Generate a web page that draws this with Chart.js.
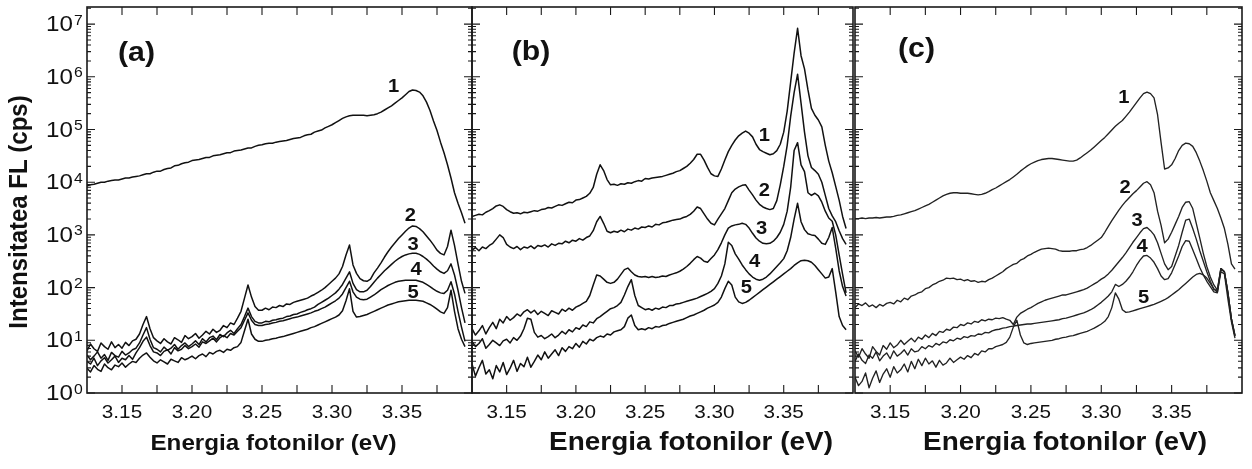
<!DOCTYPE html>
<html>
<head>
<meta charset="utf-8">
<script src="https://cdn.jsdelivr.net/npm/chart.js@4.4.1/dist/chart.umd.min.js"></script>
<style>
  html, body { margin: 0; padding: 0; background: #fff; }
  #wrap { position: relative; width: 1252px; height: 469px; overflow: hidden; background: #fff; }
  #wrap canvas { position: absolute; left: 0; top: 0; }
</style>
</head>
<body>
<div id="wrap">
  <canvas id="panelA" width="1252" height="469"></canvas>
  <canvas id="panelB" width="1252" height="469"></canvas>
  <canvas id="panelC" width="1252" height="469"></canvas>
</div>
<script>
// photon energy grid (eV), shared by all curves
const energy = [
  3.125,3.1275,3.13,3.1325,3.135,3.1375,3.14,3.1425,3.145,3.1475,
  3.15,3.1525,3.155,3.1575,3.16,3.1625,3.165,3.1675,3.17,3.1725,
  3.175,3.1775,3.18,3.1825,3.185,3.1875,3.19,3.1925,3.195,3.1975,
  3.2,3.2025,3.205,3.2075,3.21,3.2125,3.215,3.2175,3.22,3.2225,
  3.225,3.2275,3.23,3.2325,3.235,3.2375,3.24,3.2425,3.245,3.2475,
  3.25,3.2525,3.255,3.2575,3.26,3.2625,3.265,3.2675,3.27,3.2725,
  3.275,3.2775,3.28,3.2825,3.285,3.2875,3.29,3.2925,3.295,3.2975,
  3.3,3.3025,3.305,3.3075,3.31,3.3125,3.315,3.3175,3.32,3.3225,
  3.325,3.3275,3.33,3.3325,3.335,3.3375,3.34,3.3425,3.345,3.3475,
  3.35,3.3525,3.355,3.3575,3.36,3.3625,3.365,3.3675,3.37,3.3725,
  3.375,3.3775,3.38,3.3825,3.385,3.3875,3.39,3.3925,3.395
];

// log10 of the PL intensity (cps), one array per curve
// panel (a)
const a1 = [
  3.93,3.95,3.96,3.98,4.00,4.00,4.02,4.03,4.04,4.04,
  4.06,4.08,4.08,4.10,4.11,4.12,4.14,4.16,4.16,4.19,
  4.21,4.21,4.24,4.26,4.27,4.31,4.32,4.35,4.37,4.38,
  4.41,4.42,4.43,4.45,4.47,4.47,4.50,4.51,4.52,4.54,
  4.56,4.56,4.59,4.60,4.61,4.63,4.65,4.65,4.68,4.70,
  4.71,4.73,4.74,4.74,4.76,4.77,4.78,4.79,4.81,4.83,
  4.84,4.85,4.88,4.90,4.91,4.95,4.97,4.99,5.03,5.06,
  5.09,5.13,5.17,5.21,5.24,5.26,5.27,5.27,5.27,5.27,
  5.26,5.27,5.28,5.30,5.33,5.37,5.41,5.45,5.50,5.55,
  5.60,5.66,5.72,5.75,5.74,5.71,5.64,5.52,5.36,5.16,
  4.98,4.76,4.56,4.33,4.08,3.80,3.60,3.42,3.22
];
const a2 = [
  0.80,0.93,0.84,0.79,0.95,0.88,0.83,0.97,0.86,0.92,
  0.85,0.96,0.90,0.99,1.02,1.12,1.30,1.45,1.22,1.05,
  0.99,0.94,1.03,0.97,0.93,1.05,1.01,0.96,1.09,1.03,
  1.07,1.13,1.04,1.10,1.17,1.12,1.21,1.15,1.19,1.28,
  1.24,1.33,1.30,1.42,1.55,1.80,2.05,1.82,1.64,1.57,
  1.57,1.61,1.58,1.63,1.62,1.66,1.64,1.69,1.68,1.72,
  1.74,1.76,1.78,1.80,1.84,1.87,1.91,1.95,2.00,2.06,
  2.12,2.18,2.26,2.40,2.62,2.81,2.43,2.27,2.17,2.13,
  2.12,2.16,2.28,2.37,2.47,2.58,2.68,2.77,2.85,2.93,
  3.00,3.07,3.13,3.17,3.16,3.12,3.06,2.98,2.90,2.81,
  2.71,2.65,2.62,2.78,3.09,2.80,2.45,2.12,1.89
];
const a3 = [
  0.72,0.63,0.70,0.78,0.66,0.73,0.62,0.77,0.71,0.68,
  0.79,0.72,0.76,0.82,0.85,0.95,1.10,1.24,1.02,0.86,
  0.83,0.78,0.87,0.81,0.85,0.92,0.83,0.90,0.95,0.88,
  0.93,0.99,0.92,1.03,0.97,1.05,1.08,1.01,1.11,1.07,
  1.14,1.19,1.13,1.22,1.30,1.45,1.61,1.45,1.36,1.33,
  1.33,1.36,1.35,1.38,1.39,1.41,1.42,1.45,1.46,1.49,
  1.50,1.53,1.55,1.58,1.60,1.63,1.68,1.72,1.76,1.80,
  1.85,1.90,1.97,2.06,2.18,2.30,2.08,1.96,1.92,1.92,
  1.95,2.02,2.10,2.18,2.25,2.32,2.38,2.44,2.50,2.55,
  2.59,2.62,2.64,2.65,2.65,2.63,2.59,2.54,2.48,2.41,
  2.35,2.30,2.27,2.32,2.45,2.24,1.95,1.62,1.33
];
const a4 = [
  0.60,0.55,0.66,0.52,0.61,0.67,0.57,0.63,0.70,0.58,
  0.66,0.63,0.71,0.64,0.76,0.86,0.98,1.06,0.90,0.78,
  0.76,0.71,0.79,0.82,0.74,0.86,0.80,0.83,0.90,0.84,
  0.88,0.93,0.87,0.97,0.94,0.99,1.04,0.97,1.05,1.09,
  1.05,1.13,1.10,1.17,1.24,1.38,1.52,1.38,1.30,1.28,
  1.28,1.30,1.31,1.33,1.34,1.36,1.37,1.39,1.41,1.43,
  1.44,1.46,1.48,1.50,1.52,1.55,1.57,1.60,1.63,1.67,
  1.71,1.75,1.80,1.88,2.00,2.12,1.92,1.82,1.78,1.77,
  1.78,1.82,1.86,1.91,1.96,2.00,2.04,2.07,2.10,2.12,
  2.13,2.14,2.14,2.14,2.14,2.12,2.10,2.06,2.02,1.97,
  1.93,1.90,1.89,1.95,2.11,1.88,1.55,1.25,0.98
];
const a5 = [
  0.47,0.40,0.52,0.45,0.41,0.55,0.48,0.44,0.53,0.50,
  0.57,0.49,0.55,0.60,0.58,0.66,0.72,0.76,0.68,0.61,
  0.57,0.63,0.59,0.55,0.64,0.61,0.58,0.67,0.63,0.66,
  0.70,0.65,0.71,0.74,0.69,0.77,0.74,0.79,0.81,0.77,
  0.83,0.81,0.86,0.88,0.96,1.18,1.40,1.12,1.02,0.98,
  0.98,1.00,1.01,1.03,1.04,1.06,1.07,1.09,1.11,1.13,
  1.15,1.17,1.19,1.21,1.24,1.26,1.29,1.32,1.35,1.38,
  1.41,1.44,1.48,1.56,1.75,1.98,1.55,1.44,1.45,1.47,
  1.49,1.52,1.55,1.58,1.61,1.64,1.67,1.69,1.71,1.73,
  1.74,1.75,1.76,1.76,1.76,1.75,1.74,1.71,1.68,1.64,
  1.59,1.54,1.51,1.62,1.95,1.55,1.22,1.02,0.88
];

// panel (b)
const b1 = [
  3.35,3.37,3.39,3.38,3.43,3.46,3.50,3.55,3.57,3.54,
  3.48,3.44,3.41,3.42,3.40,3.43,3.42,3.44,3.46,3.45,
  3.48,3.49,3.52,3.51,3.54,3.57,3.56,3.59,3.62,3.61,
  3.66,3.67,3.70,3.73,3.79,3.90,4.15,4.33,4.22,4.05,
  3.95,3.96,3.94,3.97,3.96,3.99,3.98,4.01,4.03,4.02,
  4.07,4.06,4.08,4.09,4.10,4.11,4.13,4.15,4.17,4.20,
  4.22,4.26,4.30,4.36,4.43,4.53,4.53,4.42,4.28,4.16,
  4.12,4.11,4.25,4.42,4.58,4.70,4.80,4.88,4.93,4.97,
  4.93,4.86,4.72,4.62,4.58,4.55,4.52,4.54,4.60,4.72,
  4.95,5.35,5.90,6.45,6.92,6.40,6.15,5.75,5.40,5.27,
  5.18,5.05,4.70,4.40,4.18,3.92,3.66,3.35,3.12
];
const b2 = [
  2.71,2.76,2.70,2.77,2.74,2.80,2.84,2.92,3.00,2.95,
  2.82,2.77,2.74,2.78,2.72,2.77,2.75,2.79,2.74,2.80,
  2.78,2.81,2.77,2.83,2.80,2.84,2.83,2.88,2.85,2.90,
  2.88,2.93,2.90,2.95,2.98,3.08,3.25,3.35,3.22,3.07,
  3.04,3.07,3.05,3.09,3.06,3.11,3.09,3.13,3.11,3.15,
  3.14,3.17,3.15,3.20,3.19,3.23,3.24,3.26,3.28,3.29,
  3.30,3.33,3.35,3.39,3.45,3.53,3.50,3.40,3.30,3.22,
  3.19,3.30,3.40,3.50,3.65,3.80,3.87,3.91,3.94,3.95,
  3.85,3.76,3.66,3.58,3.53,3.50,3.48,3.50,3.65,3.95,
  4.30,4.70,5.25,5.70,6.05,5.50,4.95,4.50,4.28,4.22,
  4.15,4.00,3.75,3.50,3.36,3.25,3.08,2.93,2.82
];
const b3 = [
  1.22,1.10,1.18,1.28,1.12,1.24,1.34,1.22,1.40,1.33,
  1.45,1.38,1.43,1.50,1.46,1.54,1.58,1.52,1.57,1.49,
  1.55,1.51,1.47,1.56,1.53,1.50,1.59,1.55,1.61,1.57,
  1.63,1.66,1.70,1.74,1.85,2.05,2.24,2.22,2.16,2.10,
  2.08,2.10,2.16,2.25,2.34,2.37,2.30,2.24,2.21,2.20,
  2.21,2.19,2.21,2.19,2.20,2.22,2.21,2.24,2.26,2.28,
  2.31,2.35,2.40,2.46,2.53,2.59,2.56,2.50,2.48,2.55,
  2.62,2.72,2.85,3.00,3.13,3.17,3.19,3.20,3.22,3.20,
  3.13,3.03,2.94,2.88,2.84,2.83,2.84,2.88,2.95,3.05,
  3.20,3.45,3.90,4.60,4.75,4.33,4.20,3.80,3.75,3.79,
  3.74,3.62,3.45,3.32,3.26,3.00,2.62,2.25,1.90
];
const b4 = [
  0.98,0.88,0.94,1.03,0.85,0.92,1.00,0.95,0.90,0.99,
  1.02,0.95,1.05,1.00,1.08,1.22,1.42,1.40,1.15,1.06,
  1.09,1.03,1.07,1.12,1.05,1.10,1.17,1.12,1.20,1.16,
  1.24,1.21,1.29,1.26,1.35,1.33,1.41,1.45,1.50,1.55,
  1.60,1.62,1.66,1.72,1.86,2.02,2.15,1.85,1.66,1.62,
  1.58,1.60,1.57,1.61,1.59,1.63,1.62,1.66,1.66,1.69,
  1.70,1.72,1.74,1.76,1.78,1.80,1.83,1.86,1.89,1.93,
  1.98,2.08,2.22,2.45,2.86,2.80,2.64,2.54,2.43,2.34,
  2.26,2.20,2.16,2.14,2.16,2.20,2.26,2.33,2.40,2.47,
  2.55,2.70,2.95,3.30,3.60,3.25,3.10,3.02,3.00,2.99,
  2.92,2.84,2.82,2.95,3.14,2.75,2.32,2.02,1.84
];
const b5 = [
  0.55,0.32,0.48,0.62,0.36,0.44,0.27,0.52,0.40,0.58,
  0.35,0.47,0.62,0.41,0.56,0.50,0.68,0.49,0.60,0.72,
  0.63,0.78,0.66,0.74,0.82,0.71,0.86,0.79,0.88,0.84,
  0.94,0.87,0.98,0.93,1.02,0.99,1.05,1.08,1.06,1.12,
  1.10,1.16,1.18,1.20,1.26,1.42,1.48,1.28,1.20,1.22,
  1.20,1.24,1.22,1.26,1.25,1.28,1.29,1.32,1.34,1.36,
  1.38,1.40,1.43,1.46,1.48,1.51,1.54,1.57,1.61,1.64,
  1.67,1.72,1.82,1.98,2.12,2.05,1.82,1.73,1.70,1.72,
  1.76,1.81,1.86,1.91,1.96,2.01,2.06,2.11,2.16,2.21,
  2.26,2.31,2.36,2.42,2.47,2.51,2.52,2.51,2.48,2.42,
  2.34,2.26,2.18,2.20,2.36,1.92,1.45,1.28,1.20
];

// panel (c)
const c1 = [
  3.31,3.31,3.32,3.31,3.32,3.32,3.33,3.32,3.33,3.34,
  3.34,3.35,3.37,3.38,3.40,3.42,3.44,3.46,3.49,3.52,
  3.55,3.58,3.62,3.66,3.70,3.74,3.77,3.79,3.80,3.80,
  3.79,3.79,3.79,3.78,3.77,3.76,3.77,3.79,3.82,3.86,
  3.89,3.93,3.97,4.01,4.05,4.10,4.15,4.21,4.26,4.31,
  4.35,4.38,4.41,4.43,4.44,4.45,4.45,4.44,4.43,4.42,
  4.41,4.40,4.40,4.42,4.46,4.51,4.56,4.61,4.67,4.73,
  4.79,4.85,4.92,4.99,5.06,5.12,5.17,5.25,5.33,5.42,
  5.51,5.60,5.68,5.71,5.68,5.60,5.28,4.75,4.25,4.27,
  4.33,4.45,4.60,4.70,4.74,4.73,4.68,4.56,4.40,4.22,
  4.02,3.80,3.65,3.50,3.32,3.12,2.82,2.45,2.35
];
const c2 = [
  1.62,1.69,1.66,1.71,1.64,1.67,1.62,1.68,1.65,1.70,
  1.72,1.69,1.76,1.73,1.80,1.77,1.84,1.86,1.90,1.92,
  1.98,2.00,2.05,2.08,2.12,2.14,2.18,2.17,2.18,2.15,
  2.16,2.13,2.15,2.12,2.13,2.10,2.12,2.11,2.15,2.18,
  2.22,2.26,2.30,2.36,2.40,2.44,2.46,2.52,2.55,2.60,
  2.63,2.67,2.70,2.73,2.74,2.75,2.74,2.73,2.70,2.69,
  2.69,2.69,2.70,2.70,2.72,2.73,2.76,2.80,2.85,2.90,
  2.95,3.05,3.16,3.27,3.37,3.47,3.56,3.64,3.71,3.78,
  3.84,3.91,3.98,4.01,3.95,3.80,3.45,3.18,2.85,2.92,
  3.05,3.20,3.35,3.52,3.62,3.63,3.50,3.22,2.94,2.65,
  2.40,2.20,2.05,1.95,2.36,2.30,1.90,1.40,1.10
];
const c3 = [
  0.80,0.68,0.84,0.74,0.66,0.88,0.79,0.72,0.90,0.83,
  0.95,0.86,0.91,1.00,0.92,0.98,1.04,0.97,1.06,1.02,
  1.10,1.05,1.13,1.09,1.17,1.15,1.21,1.19,1.25,1.24,
  1.30,1.28,1.33,1.31,1.36,1.34,1.39,1.37,1.40,1.39,
  1.42,1.41,1.43,1.40,1.38,1.30,1.44,1.51,1.55,1.59,
  1.62,1.66,1.70,1.73,1.76,1.78,1.80,1.82,1.84,1.86,
  1.86,1.88,1.90,1.92,1.94,1.96,1.99,2.03,2.07,2.11,
  2.16,2.20,2.26,2.33,2.41,2.49,2.57,2.66,2.76,2.86,
  2.95,3.04,3.12,3.14,3.08,3.00,2.85,2.65,2.45,2.34,
  2.40,2.60,2.80,3.05,3.28,3.30,3.12,2.92,2.70,2.50,
  2.30,2.12,1.96,1.95,2.36,2.30,1.90,1.40,1.08
];
const c4 = [
  0.60,0.74,0.62,0.56,0.72,0.66,0.78,0.61,0.70,0.76,
  0.65,0.80,0.70,0.75,0.82,0.72,0.84,0.78,0.80,0.88,
  0.84,0.90,0.87,0.94,0.91,0.97,0.95,1.01,0.99,1.04,
  1.02,1.07,1.05,1.09,1.08,1.12,1.11,1.15,1.14,1.18,
  1.20,1.21,1.23,1.24,1.26,1.27,1.28,1.29,1.30,1.31,
  1.31,1.32,1.33,1.34,1.35,1.36,1.37,1.38,1.39,1.41,
  1.42,1.44,1.46,1.48,1.50,1.52,1.55,1.58,1.62,1.67,
  1.72,1.78,1.84,1.92,2.06,2.02,2.06,2.12,2.20,2.30,
  2.42,2.52,2.60,2.61,2.56,2.48,2.36,2.22,2.15,2.17,
  2.28,2.44,2.60,2.78,2.89,2.88,2.72,2.55,2.38,2.24,
  2.12,2.02,1.92,1.90,2.36,2.30,1.90,1.40,1.08
];
const c5 = [
  0.30,0.14,0.22,0.38,0.10,0.28,0.42,0.20,0.36,0.46,
  0.30,0.50,0.38,0.44,0.55,0.40,0.60,0.46,0.64,0.52,
  0.66,0.55,0.61,0.49,0.62,0.53,0.57,0.66,0.58,0.63,
  0.68,0.64,0.71,0.67,0.75,0.72,0.80,0.78,0.84,0.84,
  0.88,0.90,0.92,0.96,1.06,1.25,1.38,1.10,0.95,0.92,
  0.94,0.95,0.96,0.97,0.98,0.99,1.00,1.02,1.03,1.05,
  1.06,1.08,1.09,1.11,1.13,1.15,1.17,1.20,1.23,1.27,
  1.31,1.36,1.45,1.62,1.90,1.78,1.58,1.53,1.54,1.56,
  1.58,1.60,1.62,1.64,1.66,1.68,1.71,1.74,1.77,1.81,
  1.86,1.91,1.96,2.02,2.08,2.14,2.20,2.25,2.27,2.24,
  2.18,2.08,1.98,1.91,2.30,2.26,1.78,1.35,1.04
];

// axes
const xTickValues = [3.15, 3.20, 3.25, 3.30, 3.35];
const xTickLabels = ['3.15', '3.20', '3.25', '3.30', '3.35'];
const xSmallTicks = [3.15, 3.175, 3.2, 3.225, 3.25, 3.275, 3.3, 3.325, 3.35, 3.375];
const yExponents = [0, 1, 2, 3, 4, 5, 6, 7];

// curve numbers and where they sit [eV, cps]
const curveNames = ['1', '2', '3', '4', '5'];
const namePosA = [[3.344, 6.4e5], [3.356, 2290], [3.358, 643], [3.360, 216], [3.358, 79]];
const namePosB = [[3.336, 7.5e4], [3.336, 6800], [3.334, 1290], [3.329, 306], [3.323, 98]];
const namePosC = [[3.316, 3.96e5], [3.317, 7760], [3.3255, 1840], [3.329, 589], [3.330, 63.5]];

const FONT = '"Liberation Sans", Arial, Helvetica, sans-serif';

function stretchText(ctx, txt, x, y, font, align, base, sx) {
    ctx.save();
    ctx.font = font;
    ctx.textAlign = align;
    ctx.textBaseline = base;
    ctx.translate(x, y);
    ctx.scale(sx, 1);
    ctx.fillText(txt, 0, 0);
    ctx.restore();
}

// frame, inward ticks and all texts
const panelDeco = {
    id: 'panelDeco',
    afterDatasetsDraw(chart, args, o) {
        const ctx = chart.ctx;
        const a = chart.chartArea;
        const xs = chart.scales.x;
        const ys = chart.scales.y;
        ctx.save();
        ctx.strokeStyle = '#1a1a1a';
        ctx.lineWidth = 1.1;
        ctx.beginPath();
        xSmallTicks.forEach(v => {
            const px = xs.getPixelForValue(v);
            ctx.moveTo(px, a.bottom); ctx.lineTo(px, a.bottom - 8);
            ctx.moveTo(px, a.top); ctx.lineTo(px, a.top + 8);
        });
        yExponents.forEach(e => {
            for (let m = 1; m <= 9; m++) {
                const val = m * Math.pow(10, e);
                if (val > ys.max) break;
                const py = ys.getPixelForValue(val);
                const len = m === 1 ? 8 : 4;
                ctx.moveTo(a.left, py); ctx.lineTo(a.left + len, py);
                ctx.moveTo(a.right, py); ctx.lineTo(a.right - len, py);
            }
        });
        ctx.stroke();
        ctx.lineWidth = 1.6;
        ctx.strokeRect(a.left, a.top, a.right - a.left, a.bottom - a.top);

        ctx.fillStyle = '#111';
        xTickValues.forEach((v, i) => {
            stretchText(ctx, xTickLabels[i], xs.getPixelForValue(v), 418, '18px ' + FONT, 'center', 'alphabetic', 1.15);
        });
        stretchText(ctx, 'Energia fotonilor (eV)', o.titleX, 449.5, 'bold ' + o.titleSize + 'px ' + FONT, 'center', 'alphabetic', o.titleSx);
        stretchText(ctx, o.panel, o.panelX, o.panelY, 'bold 28px ' + FONT, 'center', 'alphabetic', 1.08);

        o.names.forEach((p, i) => {
            stretchText(ctx, curveNames[i], xs.getPixelForValue(p[0]), ys.getPixelForValue(p[1]), 'bold 18px ' + FONT, 'center', 'middle', 1.12);
        });

        if (o.yLabels) {
            yExponents.forEach(e => {
                const py = ys.getPixelForValue(Math.pow(10, e));
                stretchText(ctx, '10', 73, py + 1, '22px ' + FONT, 'right', 'middle', 1.1);
                stretchText(ctx, String(e), 74, py + 0.5, '15px ' + FONT, 'left', 'alphabetic', 1.05);
            });
            ctx.save();
            ctx.font = 'bold 24px ' + FONT;
            ctx.textAlign = 'center';
            ctx.textBaseline = 'middle';
            ctx.translate(20, 212);
            ctx.rotate(-Math.PI / 2);
            ctx.scale(1, 1.1);
            ctx.fillText('Intensitatea FL (cps)', 0, 0);
            ctx.restore();
        }
        ctx.restore();
    }
};

function makePanel(id, curves, left, right, deco, color, width) {
    const datasets = curves.map(c => ({
        data: energy.map((x, i) => ({ x: x, y: Math.pow(10, c[i]) })),
        borderColor: color,
        borderWidth: width,
        pointRadius: 0,
        tension: 0,
        fill: false,
        borderJoinStyle: 'round'
    }));
    return new Chart(document.getElementById(id), {
        type: 'line',
        data: { datasets: datasets },
        options: {
            responsive: false,
            animation: false,
            devicePixelRatio: 1,
            parsing: false,
            layout: { padding: { left: left, right: 1252 - right, top: 7, bottom: 76 } },
            plugins: { legend: { display: false }, tooltip: { enabled: false }, panelDeco: deco },
            events: [],
            scales: {
                x: { type: 'linear', min: 3.125, max: 3.40, display: false },
                y: { type: 'logarithmic', min: 1, max: 2.11e7, display: false }
            }
        },
        plugins: [panelDeco]
    });
}

makePanel('panelA', [a1, a2, a3, a4, a5], 87, 472,
    { panel: '(a)', panelX: 136.5, panelY: 61, titleX: 273.5, titleSize: 22, titleSx: 1.1, names: namePosA, yLabels: true }, '#111', 1.5);
makePanel('panelB', [b1, b2, b3, b4, b5], 472, 853,
    { panel: '(b)', panelX: 531, panelY: 59.5, titleX: 691, titleSize: 25.5, titleSx: 1.095, names: namePosB, yLabels: false }, '#111', 1.5);
makePanel('panelC', [c1, c2, c3, c4, c5], 855, 1242,
    { panel: '(c)', panelX: 916.5, panelY: 57, titleX: 1065, titleSize: 25.5, titleSx: 1.095, names: namePosC, yLabels: false }, '#222', 1.35);
</script>
</body>
</html>
